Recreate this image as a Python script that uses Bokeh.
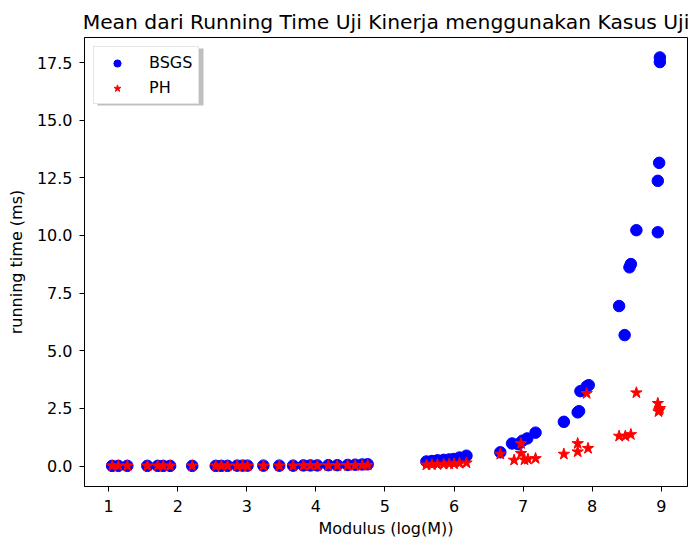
from bokeh.plotting import figure
from bokeh.models import Range1d, FixedTicker, NumeralTickFormatter, Legend, LegendItem, BoxAnnotation
from bokeh.embed import file_html
from bokeh.resources import INLINE

# BSGS data
bsgs_x = [1.05, 1.14, 1.27, 1.56, 1.71, 1.79, 1.89, 2.21, 2.55, 2.63, 2.72, 2.86, 2.94, 3.01,
          3.24, 3.47, 3.67, 3.82, 3.92, 4.02, 4.18, 4.31, 4.46, 4.57, 4.67, 4.75,
          5.60, 5.68, 5.76, 5.85, 5.93, 6.00, 6.08, 6.18,
          6.67, 6.84, 6.93, 6.99, 7.06, 7.18,
          7.59, 7.79, 7.81, 7.83, 7.92, 7.95,
          8.39, 8.47, 8.54, 8.56, 8.64, 8.95, 8.95, 8.97, 8.98, 8.98]
bsgs_y = [0.01, 0.01, 0.01, 0.01, 0.01, 0.01, 0.01, 0.01, 0.01, 0.01, 0.01, 0.02, 0.02, 0.02,
          0.02, 0.02, 0.02, 0.03, 0.03, 0.03, 0.04, 0.04, 0.05, 0.06, 0.07, 0.08,
          0.20, 0.22, 0.25, 0.27, 0.29, 0.31, 0.37, 0.45,
          0.60, 0.98, 0.95, 1.10, 1.20, 1.45,
          1.92, 2.33, 2.38, 3.25, 3.45, 3.51,
          6.94, 5.68, 8.62, 8.76, 10.23, 10.14, 12.37, 13.15, 17.52, 17.72]

# PH data
ph_x = [1.05, 1.14, 1.27, 1.56, 1.71, 1.79, 1.89, 2.21, 2.55, 2.63, 2.72, 2.86, 2.94, 3.01,
        3.24, 3.47, 3.67, 3.82, 3.92, 4.02, 4.18, 4.31, 4.46, 4.57, 4.67, 4.75,
        5.60, 5.68, 5.76, 5.85, 5.93, 6.00, 6.08, 6.18,
        6.67, 6.87, 6.97, 6.97, 7.02, 7.07, 7.18,
        7.59, 7.79, 7.79, 7.94, 7.92,
        8.39, 8.48, 8.56, 8.64, 8.95, 8.97, 8.98, 8.96]
ph_y = [0.01, 0.01, 0.01, 0.01, 0.01, 0.01, 0.01, 0.01, 0.01, 0.01, 0.01, 0.01, 0.01, 0.01,
        0.01, 0.01, 0.01, 0.02, 0.02, 0.02, 0.02, 0.02, 0.03, 0.03, 0.03, 0.04,
        0.05, 0.06, 0.07, 0.08, 0.09, 0.10, 0.12, 0.14,
        0.52, 0.26, 0.98, 0.55, 0.27, 0.30, 0.33,
        0.52, 0.98, 0.62, 0.77, 3.15,
        1.30, 1.30, 1.37, 3.18, 2.72, 2.43, 2.50, 2.36]

x_ticks = [1, 2, 3, 4, 5, 6, 7, 8, 9]
y_ticks = [0.0, 2.5, 5.0, 7.5, 10.0, 12.5, 15.0, 17.5]

FONT = "DejaVu Sans"
LABEL_SIZE = "16px"

p = figure(width=692, height=540, output_backend="svg", toolbar_location=None,
           x_range=Range1d(0.65, 9.38), y_range=Range1d(-0.885, 18.585),
           min_border_left=84, min_border_right=5, min_border_top=37, min_border_bottom=53)

p.title.text = "Mean dari Running Time Uji Kinerja menggunakan Kasus Uji"
p.title.align = "center"
p.title.text_font = FONT
p.title.text_font_size = "20.3px"
p.title.text_font_style = "normal"
p.title.text_color = "black"
p.title.standoff = 7

p.outline_line_color = "black"
p.outline_line_width = 1
p.outline_line_alpha = 1
p.xgrid.visible = False
p.ygrid.visible = False
p.background_fill_color = "white"
p.border_fill_color = "white"

r1 = p.scatter(bsgs_x, bsgs_y, marker="circle", size=11.5, fill_color="blue", line_color="blue")
r2 = p.scatter(ph_x, ph_y, marker="star", size=12, fill_color="red", line_color="red")

for ax in (p.xaxis[0], p.yaxis[0]):
    ax.axis_line_color = "black"
    ax.major_tick_line_color = "black"
    ax.major_tick_out = 5
    ax.major_tick_in = 0
    ax.minor_tick_line_color = None
    ax.major_label_text_font = FONT
    ax.major_label_text_font_size = LABEL_SIZE
    ax.major_label_text_color = "black"
    ax.axis_label_text_font = FONT
    ax.axis_label_text_font_size = LABEL_SIZE
    ax.axis_label_text_font_style = "normal"
    ax.axis_label_text_color = "black"

p.xaxis[0].ticker = FixedTicker(ticks=x_ticks)
p.yaxis[0].ticker = FixedTicker(ticks=y_ticks)
p.yaxis[0].formatter = NumeralTickFormatter(format="0.0")
p.xaxis[0].axis_label = "Modulus (log(M))"
p.yaxis[0].axis_label = "running time (ms)"
p.xaxis[0].major_label_standoff = 8
p.yaxis[0].major_label_standoff = 7
p.xaxis[0].axis_label_standoff = 4
p.yaxis[0].axis_label_standoff = 8

# legend shadow (screen units: x from frame left, y up from frame bottom)
shadow = BoxAnnotation(left=13, right=119, top=438, bottom=381,
                       left_units="screen", right_units="screen",
                       top_units="screen", bottom_units="screen",
                       fill_color="gray", fill_alpha=0.5, line_color=None)
p.add_layout(shadow)

legend = Legend(items=[LegendItem(label="BSGS", renderers=[r1]),
                       LegendItem(label="PH", renderers=[r2])],
                location="top_left")
legend.margin = 9
legend.padding = 6
legend.spacing = 6
legend.glyph_width = 34
legend.glyph_height = 18
legend.label_height = 18
legend.label_standoff = 15
legend.label_text_font = FONT
legend.label_text_font_size = LABEL_SIZE
legend.label_text_color = "black"
legend.border_line_color = "#cccccc"
legend.background_fill_alpha = 1
p.add_layout(legend)

open("out.html", "w").write(file_html(p, INLINE))
